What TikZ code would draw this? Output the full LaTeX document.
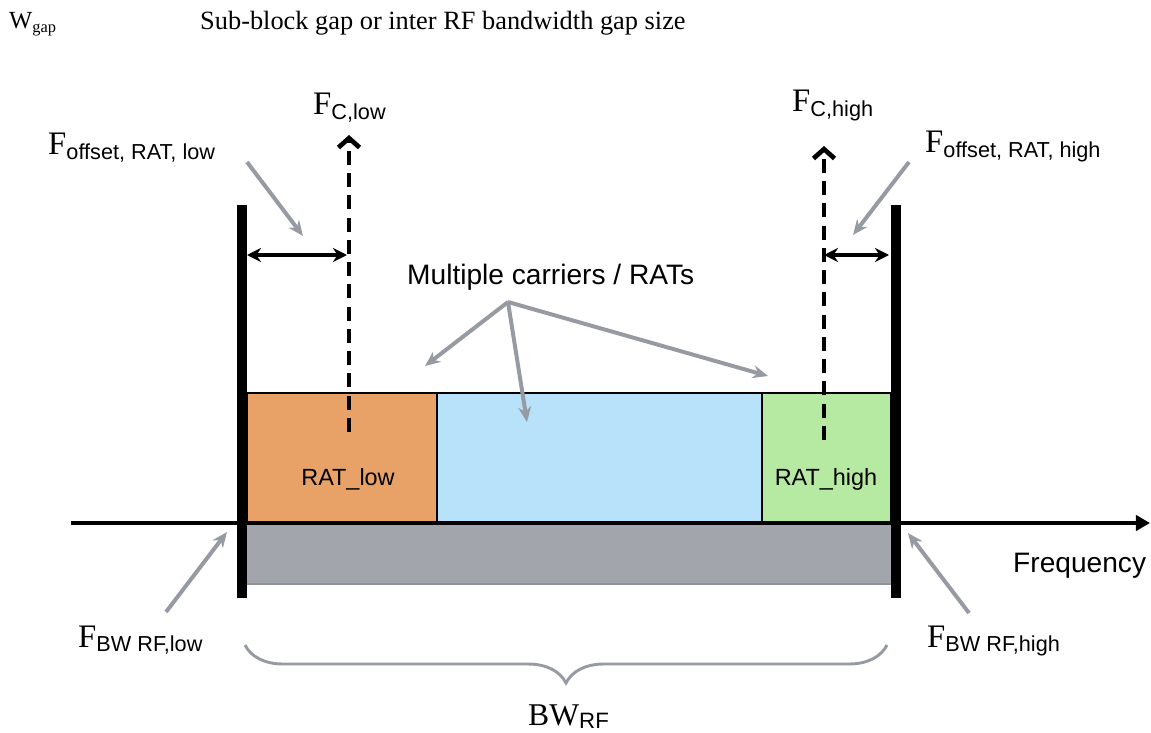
\documentclass[tikz,border=0pt]{standalone}
\usepackage{fontspec}
\setmainfont{Liberation Serif}
\setsansfont{Liberation Sans}
\usepackage{tikz}
\usetikzlibrary{arrows.meta,decorations.pathreplacing,positioning}
\definecolor{ratlow}{HTML}{E8A268}
\definecolor{ratmid}{HTML}{B8E2FA}
\definecolor{rathigh}{HTML}{B6EAA2}
\definecolor{bwgray}{HTML}{A2A5AC}
\definecolor{bwedge}{HTML}{8E9299}
\definecolor{pgray}{HTML}{969BA3}
\newcommand{\Fsub}[1]{{\fontsize{28}{30}\selectfont F}\raisebox{-4pt}{\fontsize{18.5}{20}\selectfont\sffamily #1}}

\begin{document}
\begin{tikzpicture}[x=0.03cm, y=-0.03cm,
  lbl/.style={inner sep=0pt, anchor=base west},
  barline/.style={line width=8.5pt},
  boxline/.style={draw=black, line width=2.3pt},
  pointer/.style={draw=pgray, line width=3.4pt, -{Stealth[length=13pt,width=11pt]}},
  offarrow/.style={draw=black, line width=2.8pt, {Stealth[length=12pt,width=12pt]}-{Stealth[length=12pt,width=12pt]}},
  carrier/.style={draw=black, line width=4pt, dash pattern=on 12pt off 7pt, -{Straight Barb[length=8pt,width=18pt]}}]
   \useasboundingbox (0,0) rectangle (1151,733);
   \node[lbl] (wgap) at (9,29) {{\fontsize{21}{24}\selectfont W}\raisebox{-3pt}{\fontsize{14}{16}\selectfont gap}};
   \node[lbl] (wgaptxt) at (200,30) {\fontsize{22.5}{26}\selectfont Sub-block gap or inter RF bandwidth gap size};
   % RF bandwidth and the carriers in it
   \fill[bwgray] (247,523) rectangle (891,585);
   \draw[draw=bwedge, line width=2pt] (247,584) -- (891,584);
   \draw[boxline, fill=ratlow] (247,393) rectangle (437,523);
   \draw[boxline, fill=ratmid] (437,393) rectangle (762,523);
   \draw[boxline, fill=rathigh] (762,393) rectangle (891,523);
   \node[inner sep=0pt, anchor=base] (ratlowlbl) at (348,485) {\fontsize{20}{24}\selectfont\sffamily RAT\_low};
   \node[inner sep=0pt, anchor=base] (rathighlbl) at (826,485) {\fontsize{20}{24}\selectfont\sffamily RAT\_high};
   \coordinate (ax0) at (71,523);
   \coordinate (ax1) at (1150,523);
   \draw[line width=3.4pt, -{Triangle[length=12pt,width=13pt]}] (ax0) -- (ax1);
   \node[lbl] (freq) at (1013,572) {\fontsize{24}{28}\selectfont\sffamily Frequency};
   \coordinate (lowtop) at (242,205);
   \coordinate (lowbot) at (242,598);
   \coordinate (hightop) at (896,205);
   \coordinate (highbot) at (896,598);
   \draw[barline] (lowtop) -- (lowbot);
   \draw[barline] (hightop) -- (highbot);
   % carrier centres and offsets
   \coordinate (fclow0) at (349,432);
   \coordinate (fclow1) at (349,135);
   \coordinate (fchigh0) at (824,440);
   \coordinate (fchigh1) at (824,146);
   \draw[carrier] (fclow0) -- (fclow1);
   \draw[carrier] (fchigh0) -- (fchigh1);
   \node[lbl] (fclowlbl) at (313,115) {\Fsub{C,low}};
   \node[lbl] (fchighlbl) at (792,112) {\Fsub{C,high}};
   \coordinate (offlow0) at (247,255);
   \coordinate (offlow1) at (347,255);
   \coordinate (offhigh0) at (824,255);
   \coordinate (offhigh1) at (889,255);
   \draw[offarrow] (offlow0) -- (offlow1);
   \draw[offarrow] (offhigh0) -- (offhigh1);
   \node[lbl] (offlowlbl) at (48,155) {\Fsub{offset, RAT, low}};
   \node[lbl] (offhighlbl) at (925,153) {\Fsub{offset, RAT, high}};
   \coordinate (offlowtail) at (247,162);
   \coordinate (offlowtip) at (303,236);
   \coordinate (offhightail) at (909,162);
   \coordinate (offhightip) at (853,235);
   \draw[pointer] (offlowtail) -- (offlowtip);
   \draw[pointer] (offhightail) -- (offhightip);
   \node[lbl] (multi) at (407,284) {\fontsize{24}{28}\selectfont\sffamily Multiple carriers / RATs};
   \coordinate (fork) at (508,302);
   \coordinate (forklow) at (425,366);
   \coordinate (forkmid) at (527,422);
   \coordinate (forkhigh) at (768,376);
   \draw[pointer] (fork) -- (forklow);
   \draw[pointer] (fork) -- (forkmid);
   \draw[pointer] (fork) -- (forkhigh);
   % band edges
   \node[lbl] (bwlowlbl) at (78,647) {\Fsub{BW RF,low}};
   \node[lbl] (bwhighlbl) at (927,647) {\Fsub{BW RF,high}};
   \coordinate (bwlowtail) at (166,612);
   \coordinate (bwlowtip) at (227,532);
   \coordinate (bwhightail) at (969,613);
   \coordinate (bwhightip) at (908,533);
   \draw[pointer] (bwlowtail) -- (bwlowtip);
   \draw[pointer] (bwhightail) -- (bwhightip);
   \coordinate (bracel) at (245,645);
   \coordinate (bracer) at (887,645);
   \draw[draw=pgray, line width=2.5pt, decorate, decoration={brace, mirror, amplitude=1.14cm}] (bracel) -- (bracer);
   \node[lbl] (bwrf) at (528,725) {{\fontsize{27}{30}\selectfont BW}\raisebox{-3pt}{\fontsize{19}{22}\selectfont\sffamily RF}};
\end{tikzpicture}
\end{document}
